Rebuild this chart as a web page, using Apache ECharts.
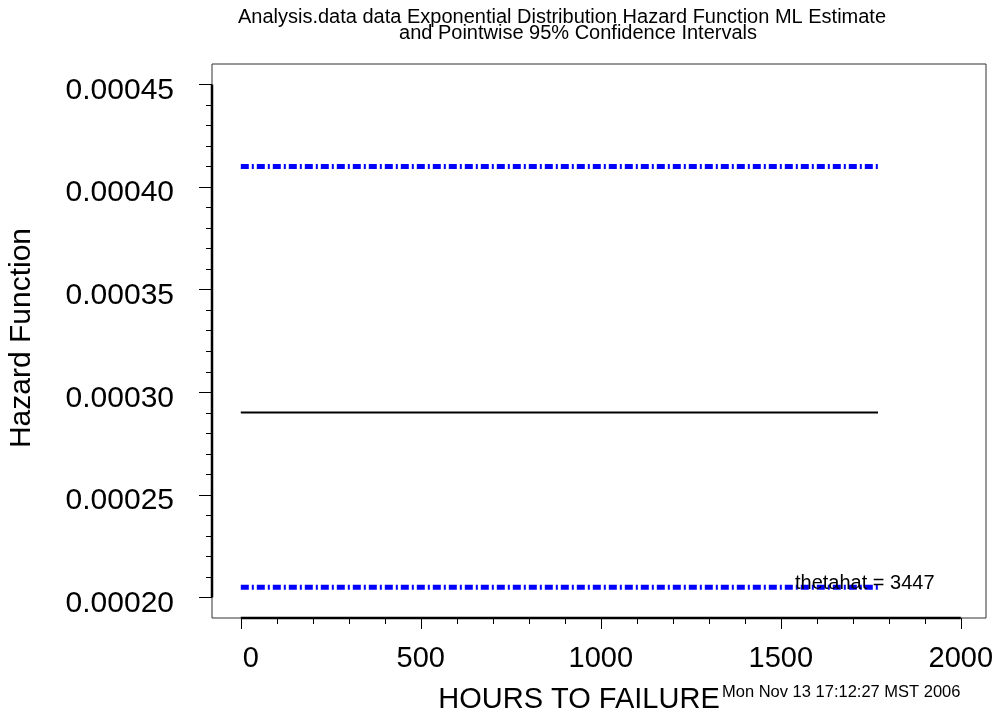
<!DOCTYPE html>
<html>
<head>
<meta charset="utf-8">
<title>Exponential Distribution Hazard Function</title>
<script src="https://cdn.jsdelivr.net/npm/echarts@6/dist/echarts.min.js"></script>
<style>
  html, body { margin: 0; padding: 0; background: #ffffff; }
  #chart { width: 995px; height: 715px; }
</style>
</head>
<body>
<div id="chart"></div>
<script>
// Time axis (hours) spanned by the estimate and its confidence band
const hours = [0, 1770];
// ML estimate of the mean life; the hazard is its reciprocal
const thetahat = 3447;
const hazardML = [0.00029011, 0.00029011];
// Pointwise 95% confidence limits
const upperCI = [0.000410, 0.000410];
const lowerCI = [0.000205, 0.000205];

// Axis ranges and tick labels
const xRange = [-80, 2070];
const yRange = [0.00019, 0.00046];
const xMajor = [0, 500, 1000, 1500, 2000];
const yMajor = [0.00020, 0.00025, 0.00030, 0.00035, 0.00040, 0.00045];
const xMinorStep = 100;
const yMinorStep = 0.00001;

const xMinor = [];
for (let v = xMajor[0]; v <= xMajor[xMajor.length - 1] + 1e-9; v += xMinorStep) xMinor.push(v);
const yMinor = [];
for (let i = 0; yMajor[0] + i * yMinorStep <= yMajor[yMajor.length - 1] + 1e-12; i++) {
  yMinor.push(+(yMajor[0] + i * yMinorStep).toFixed(6));
}

const FONT = "'Liberation Sans', Arial, Helvetica, sans-serif";
const pairs = (xs, ys) => xs.map((x, i) => [x, ys[i]]);

const chart = echarts.init(document.getElementById('chart'), null, { renderer: 'canvas' });

const hiddenLine = { show: false, onZero: false };

const option = {
  backgroundColor: '#ffffff',
  animation: false,
  grid: {
    left: 212, right: 9, top: 64, bottom: 97,
    show: true, borderColor: '#333333', borderWidth: 1,
    backgroundColor: 'transparent',
    containLabel: false,
    outerBoundsMode: 'none'
  },
  xAxis: [
    {
      type: 'value', min: xRange[0], max: xRange[1], position: 'bottom',
      axisLine: hiddenLine,
      splitLine: { show: false },
      axisTick: { show: true, inside: false, length: 11, customValues: xMajor,
                  lineStyle: { color: '#000', width: 1 } },
      axisLabel: {
        show: true, customValues: xMajor, margin: 26,
        color: '#000', fontSize: 29, fontFamily: FONT,
        formatter: v => (v === 0 ? '{z|0}' : String(v)),
        rich: { z: { padding: [0, 0, 0, 20], fontSize: 29, fontFamily: FONT, color: '#000' } }
      }
    },
    {
      type: 'value', min: xRange[0], max: xRange[1], position: 'bottom',
      axisLine: hiddenLine,
      splitLine: { show: false },
      axisTick: { show: true, inside: false, length: 6, customValues: xMinor,
                  lineStyle: { color: '#000', width: 1 } },
      axisLabel: { show: false }
    }
  ],
  yAxis: [
    {
      type: 'value', min: yRange[0], max: yRange[1], position: 'left',
      axisLine: hiddenLine,
      splitLine: { show: false },
      axisTick: { show: true, inside: false, length: 13, customValues: yMajor,
                  lineStyle: { color: '#000', width: 1 } },
      axisLabel: {
        show: true, customValues: yMajor, margin: 38,
        color: '#000', fontSize: 30, fontFamily: FONT,
        formatter: v => '{v|' + v.toFixed(5) + '}',
        rich: { v: { padding: [12, 0, 0, 0], fontSize: 30, fontFamily: FONT, color: '#000' } }
      }
    },
    {
      type: 'value', min: yRange[0], max: yRange[1], position: 'left',
      axisLine: hiddenLine,
      splitLine: { show: false },
      axisTick: { show: true, inside: false, length: 6, customValues: yMinor,
                  lineStyle: { color: '#000', width: 1 } },
      axisLabel: { show: false }
    }
  ],
  series: [
    {
      // heavy axis segment along the y tick range
      type: 'line', silent: true, clip: false, symbol: 'none',
      xAxisIndex: 0, yAxisIndex: 0,
      data: [[xRange[0], yMajor[0]], [xRange[0], yMajor[yMajor.length - 1]]],
      lineStyle: { color: '#000', width: 2.5 }
    },
    {
      // heavy axis segment along the x tick range
      type: 'line', silent: true, clip: false, symbol: 'none',
      xAxisIndex: 0, yAxisIndex: 0,
      data: [[xMajor[0], yRange[0]], [xMajor[xMajor.length - 1], yRange[0]]],
      lineStyle: { color: '#000', width: 2.5 }
    },
    {
      name: 'Upper 95% limit', type: 'line', symbol: 'none',
      data: pairs(hours, upperCI),
      lineStyle: { color: '#0000ff', width: 5, type: [8, 3, 2, 3], cap: 'butt' }
    },
    {
      name: 'ML estimate', type: 'line', symbol: 'none',
      data: pairs(hours, hazardML),
      lineStyle: { color: '#000000', width: 2 }
    },
    {
      name: 'Lower 95% limit', type: 'line', symbol: 'none',
      data: pairs(hours, lowerCI),
      lineStyle: { color: '#0000ff', width: 5, type: [8, 3, 2, 3], cap: 'butt' }
    }
  ],
  graphic: [
    {
      type: 'text', x: 562, y: 17, z: 100,
      style: { text: 'Analysis.data data Exponential Distribution Hazard Function ML Estimate',
               font: '20px ' + FONT, fill: '#000', textAlign: 'center', textVerticalAlign: 'middle' }
    },
    {
      type: 'text', x: 578, y: 33, z: 100,
      style: { text: 'and Pointwise 95% Confidence Intervals',
               font: '20px ' + FONT, fill: '#000', textAlign: 'center', textVerticalAlign: 'middle' }
    },
    {
      type: 'text', x: 22, y: 338, rotation: Math.PI / 2, z: 100,
      style: { text: 'Hazard Function', font: '30px ' + FONT, fill: '#000',
               textAlign: 'center', textVerticalAlign: 'middle' }
    },
    {
      type: 'text', x: 579, y: 700, z: 100,
      style: { text: 'HOURS TO FAILURE', font: '29px ' + FONT, fill: '#000',
               textAlign: 'center', textVerticalAlign: 'middle' }
    },
    {
      type: 'text', x: 722, y: 692, z: 100,
      style: { text: 'Mon Nov 13 17:12:27 MST 2006', font: '16.5px ' + FONT, fill: '#000',
               textAlign: 'left', textVerticalAlign: 'middle' }
    },
    {
      type: 'text', x: 795, y: 583, z: 100,
      style: { text: 'thetahat = ' + thetahat, font: '20px ' + FONT, fill: '#000',
               textAlign: 'left', textVerticalAlign: 'middle' }
    }
  ]
};

chart.setOption(option);
</script>
</body>
</html>
